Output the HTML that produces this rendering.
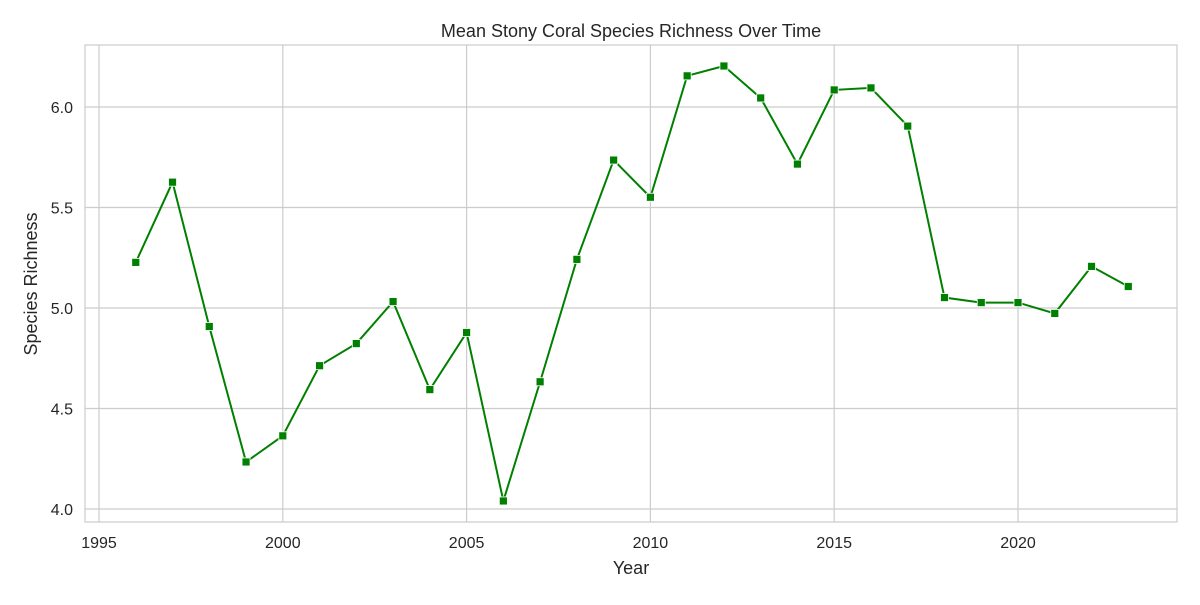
<!DOCTYPE html>
<html><head><meta charset="utf-8"><style>
body{margin:0;background:#fff;}
svg text{font-family:"Liberation Sans",Arial,sans-serif;fill:#262626;}
</style></head><body>
<svg id="chart" width="1200" height="600" xmlns="http://www.w3.org/2000/svg">
<rect x="0" y="0" width="1200" height="600" fill="#fff"/>
<g id="grid"></g>
<rect x="85" y="45" width="1092" height="477" fill="none" stroke="#cccccc" stroke-width="1.2"/>
<g id="ticks"></g>
<g id="series"></g>
<text x="631" y="37" text-anchor="middle" font-size="18">Mean Stony Coral Species Richness Over Time</text>
<text x="631" y="574" text-anchor="middle" font-size="18">Year</text>
<text x="37" y="284" text-anchor="middle" font-size="18" transform="rotate(-90 37 284)">Species Richness</text>
</svg>
<script>
const years=[1996,1997,1998,1999,2000,2001,2002,2003,2004,2005,2006,2007,2008,2009,2010,2011,2012,2013,2014,2015,2016,2017,2018,2019,2020,2021,2022,2023];
const richness=[5.227,5.626,4.908,4.234,4.364,4.713,4.823,5.032,4.594,4.878,4.04,4.633,5.242,5.736,5.551,6.155,6.204,6.045,5.716,6.085,6.095,5.905,5.052,5.027,5.027,4.973,5.207,5.107];
const xTicks=[1995,2000,2005,2010,2015,2020];
const yTicks=[4.0,4.5,5.0,5.5,6.0];
const NS="http://www.w3.org/2000/svg";
function xs(v){return 99+(v-1995)*(1018-99)/25;}
function ys(v){return 509-(v-4)*(509-107)/2;}
function mk(t,a,p){const e=document.createElementNS(NS,t);for(const k in a)e.setAttribute(k,a[k]);p.appendChild(e);return e;}
const g=document.getElementById('grid'),tk=document.getElementById('ticks'),s=document.getElementById('series');
xTicks.forEach(v=>{
 const l=mk('line',{x1:xs(v),x2:xs(v),y1:45,y2:522,stroke:'#cccccc','stroke-width':1.2},g);
 
 
 const t=mk('text',{x:xs(v),y:548,'text-anchor':'middle','font-size':16},tk);t.textContent=v;
 
 
});
yTicks.forEach(v=>{
 const l=mk('line',{x1:85,x2:1177,y1:ys(v),y2:ys(v),stroke:'#cccccc','stroke-width':1.2},g);
 
 
 const t=mk('text',{x:73,y:ys(v)+6,'text-anchor':'end','font-size':16},tk);t.textContent=v.toFixed(1);
 
 
});
const pl=mk('polyline',{points:years.map((y,i)=>xs(y)+','+ys(richness[i])).join(' '),fill:'none',stroke:'#008000','stroke-width':2},s);


years.forEach((y,i)=>{
 const r=mk('rect',{x:xs(y)-4,y:ys(richness[i])-4,width:8,height:8,fill:'#008000',stroke:'#fff','stroke-width':0.8},s);
 
 
});
</script>
</body></html>
